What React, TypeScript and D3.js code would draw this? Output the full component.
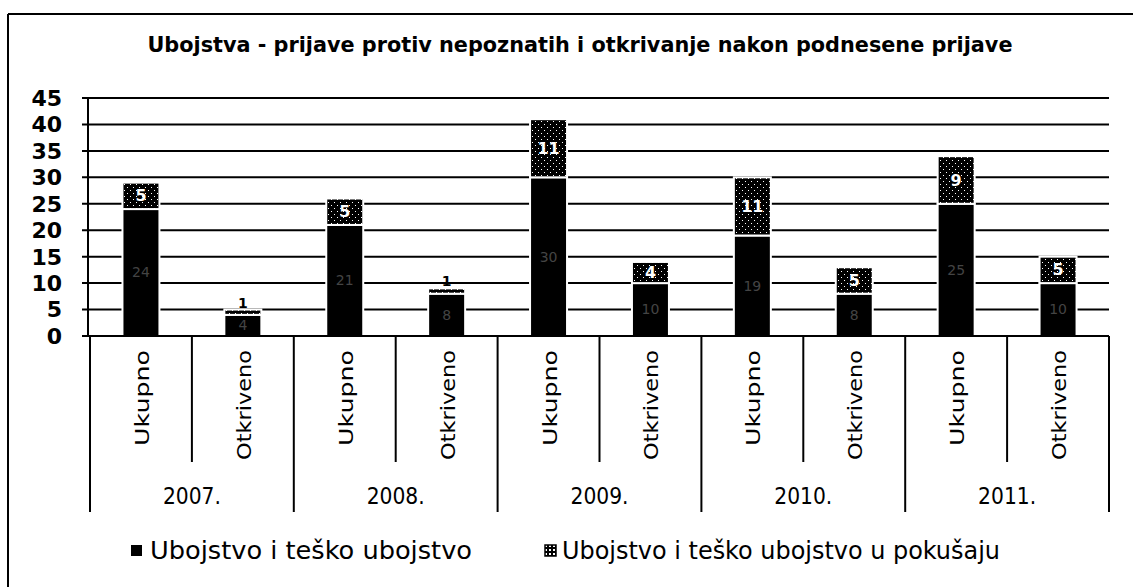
import * as d3 from 'd3';

// values
const years = ['2007.', '2008.', '2009.', '2010.', '2011.'];
const kinds = ['Ukupno', 'Otkriveno'];
const ubojstvo = [24, 4, 21, 8, 30, 10, 19, 8, 25, 10];
const pokusaj = [5, 1, 5, 1, 11, 4, 11, 5, 9, 5];
const yTicks = [0, 5, 10, 15, 20, 25, 30, 35, 40, 45];
const seriesNames = ['Ubojstvo i teško ubojstvo', 'Ubojstvo i teško ubojstvo u pokušaju'];

const W = 1133;
const H = 587;
const plot = { left: 90, right: 1109, top: 98, bottom: 336 };

const App = () => {
  const cats = years.flatMap((yr) => kinds.map((k) => `${yr}|${k}`));

  const x = d3.scaleBand<string>()
    .domain(cats)
    .range([plot.left, plot.right])
    .paddingInner(0.637)
    .paddingOuter(0.3185);

  const y = d3.scaleLinear().domain([0, 45]).range([plot.bottom, plot.top]);

  const step = x.step();
  const groupW = step * kinds.length;

  return (
    <svg width={W} height={H} style={{ position: 'absolute', left: 0, top: 0, background: '#fff' }}>
      <defs>
        <pattern id="hatch" width="6" height="6" patternUnits="userSpaceOnUse">
          <rect width="6" height="6" fill="#000" />
          <rect x="1" y="1" width="1" height="1" fill="#fff" />
          <rect x="4" y="4" width="1" height="1" fill="#fff" />
        </pattern>
        <pattern id="hatchIcon" width="4" height="4" patternUnits="userSpaceOnUse">
          <rect width="4" height="4" fill="#000" />
          <rect x="1" y="1" width="2" height="2" fill="#fff" />
        </pattern>
      </defs>

      {/* outer frame */}
      <line x1={8} y1={14} x2={W} y2={14} stroke="#000" strokeWidth={2} />
      <line x1={8} y1={14} x2={8} y2={H} stroke="#000" strokeWidth={2} />

      <text
        x={580}
        y={52}
        textAnchor="middle"
        fontFamily="'Liberation Sans Narrow', 'DejaVu Sans Condensed', 'Liberation Sans', sans-serif"
        fontWeight="bold"
        fontSize={21}
        textLength={865}
        lengthAdjust="spacingAndGlyphs"
      >
        Ubojstva - prijave protiv nepoznatih i otkrivanje nakon podnesene prijave
      </text>

      {/* gridlines + y ticks */}
      {yTicks.map((t) => (
        <g key={t}>
          <line x1={plot.left - 8} x2={plot.right} y1={y(t)} y2={y(t)} stroke="#000" strokeWidth={2} />
          <text
            x={62}
            y={y(t)}
            dy="0.36em"
            textAnchor="end"
            fontFamily="'DejaVu Sans', sans-serif"
            fontWeight="bold"
            fontSize={22}
          >
            {t}
          </text>
        </g>
      ))}
      <line x1={plot.left - 2} x2={plot.left - 2} y1={plot.top} y2={plot.bottom} stroke="#000" strokeWidth={2} />

      {/* bars */}
      {cats.map((c, i) => {
        const bx = x(c) as number;
        const bw = x.bandwidth();
        const y0 = y(0);
        const y1 = y(ubojstvo[i]);
        const y2 = y(ubojstvo[i] + pokusaj[i]);
        const thin = y1 - y2 < 10;
        return (
          <g key={c}>
            <rect x={bx} y={y1} width={bw} height={y0 - y1} fill="#000" stroke="#fff" strokeWidth={2} />
            <rect x={bx} y={y2} width={bw} height={y1 - y2} fill="url(#hatch)" stroke="#fff" strokeWidth={2} />
            <text
              x={bx + bw / 2}
              y={(y0 + y1) / 2}
              dy="0.35em"
              textAnchor="middle"
              fontFamily="'DejaVu Sans', sans-serif"
              fontSize={14}
              fill="#444"
            >
              {ubojstvo[i]}
            </text>
            <text
              x={bx + bw / 2}
              y={thin ? y2 - 2 : (y1 + y2) / 2}
              dy={thin ? '0' : '0.35em'}
              textAnchor="middle"
              fontFamily="'DejaVu Sans', sans-serif"
              fontWeight="bold"
              fontSize={thin ? 14 : 16}
              fill={thin ? '#000' : '#fff'}
            >
              {pokusaj[i]}
            </text>
          </g>
        );
      })}

      {/* category axis */}
      {cats.map((c, i) => {
        const cx = (x(c) as number) + x.bandwidth() / 2;
        const kind = c.split('|')[1];
        return (
          <g key={`lab-${c}`}>
            {i % 2 === 1 && (
              <line x1={cx - step / 2} x2={cx - step / 2} y1={plot.bottom} y2={462} stroke="#000" strokeWidth={2} />
            )}
            <text
              transform={`translate(${cx + 8},350) rotate(-90)`}
              textAnchor="end"
              fontFamily="'DejaVu Sans', sans-serif"
              fontSize={20}
              textLength={kind === 'Ukupno' ? 96 : 110}
              lengthAdjust="spacingAndGlyphs"
            >
              {kind}
            </text>
          </g>
        );
      })}
      {years.map((yr, gi) => {
        const gx = plot.left + gi * groupW;
        return (
          <g key={yr}>
            <line x1={gx} x2={gx} y1={plot.bottom} y2={512} stroke="#000" strokeWidth={2} />
            <text
              x={gx + groupW / 2}
              y={504}
              textAnchor="middle"
              fontFamily="'Liberation Sans Narrow', 'DejaVu Sans Condensed', sans-serif"
              fontSize={23}
              textLength={58}
              lengthAdjust="spacingAndGlyphs"
            >
              {yr}
            </text>
          </g>
        );
      })}
      <line x1={plot.right} x2={plot.right} y1={plot.bottom} y2={512} stroke="#000" strokeWidth={2} />
      <line x1={plot.left - 2} x2={plot.right} y1={plot.bottom} y2={plot.bottom} stroke="#000" strokeWidth={2} />

      {/* legend */}
      <rect x={131} y={545} width={11} height={11} fill="#000" />
      <text
        x={150}
        y={559}
        fontFamily="'Liberation Sans Narrow', 'DejaVu Sans Condensed', sans-serif"
        fontSize={24}
        textLength={322}
        lengthAdjust="spacingAndGlyphs"
      >
        {seriesNames[0]}
      </text>
      <rect x={545} y={545} width={11} height={11} fill="url(#hatchIcon)" stroke="#000" strokeWidth={1.5} />
      <text
        x={562}
        y={559}
        fontFamily="'Liberation Sans Narrow', 'DejaVu Sans Condensed', sans-serif"
        fontSize={24}
        textLength={438}
        lengthAdjust="spacingAndGlyphs"
      >
        {seriesNames[1]}
      </text>
    </svg>
  );
};

export default App;
